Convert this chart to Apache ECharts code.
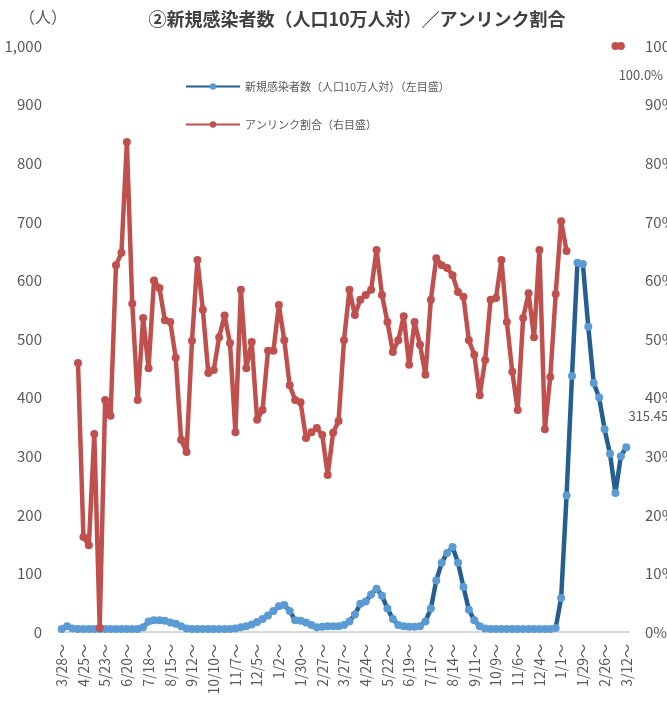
<!DOCTYPE html>
<html>
<head>
<meta charset="utf-8">
<script src="https://cdn.jsdelivr.net/npm/echarts@6/dist/echarts.min.js"></script>
<style>
  html, body { margin: 0; padding: 0; background: #fff; }
  #chart { width: 667px; height: 721px; }
</style>
</head>
<body>
<div id="chart"></div>
<script>
// 週ごとのラベル（4週おき）
let tickLabels = ['3/28～', '4/25～', '5/23～', '6/20～', '7/18～', '8/15～', '9/12～', '10/10～',
    '11/7～', '12/5～', '1/2～', '1/30～', '2/27～', '3/27～', '4/24～', '5/22～', '6/19～',
    '7/17～', '8/14～', '9/11～', '10/9～', '11/6～', '12/4～', '1/1～', '1/29～', '2/26～', '3/12～'];

// 新規感染者数（人口10万人対）
let newCases = [
    5, 10, 6, 5, 5, 5, 5, 5, 5, 5,
    5, 5, 5, 5, 5, 8, 18, 20, 20, 19,
    16, 14, 10, 6, 5, 5, 5, 5, 5, 5,
    5, 5, 6, 8, 10, 13, 17, 22, 28, 36,
    44, 46, 36, 20, 19, 16, 12, 8, 9, 10,
    10, 10, 12, 18, 30, 48, 52, 64, 74, 62,
    40, 22, 12, 10, 9, 9, 10, 18, 40, 88,
    118, 135, 145, 118, 77, 38, 20, 10, 6, 5,
    5, 5, 5, 5, 5, 5, 5, 5, 5, 5,
    5, 7, 58, 233, 437, 630, 628, 521, 425, 400,
    346, 304, 237, 300, 315.45
];

// アンリンク割合（%）
let unlinkRate = [
    null, null, null, 45.9, 16.2, 14.8, 33.8, 0.7, 39.6, 36.9,
    62.6, 64.7, 83.6, 56, 39.6, 53.6, 45, 60, 58.7, 53.2,
    52.9, 46.8, 32.8, 30.7, 49.7, 63.5, 55, 44.2, 44.7, 50.3,
    54, 49.3, 34.1, 58.4, 45, 49.5, 36.2, 37.9, 48, 48,
    55.8, 49.8, 42.1, 39.6, 39.2, 33.1, 34.1, 34.8, 33.6, 26.8,
    34, 36, 49.8, 58.4, 54.1, 56.7, 57.5, 58.4, 65.2, 57.5,
    52.9, 47.8, 49.8, 53.9, 45.6, 52.9, 49, 43.9, 56.7, 63.8,
    62.6, 62.1, 60.9, 58, 57.2, 49.8, 47.3, 40.4, 46.4, 56.7,
    57, 63.5, 52.9, 44.4, 37.9, 53.6, 57.8, 50.3, 65.2, 34.6,
    43.5, 57.7, 70.1, 65, null, null, null, null, null, null,
    null, null, 100, 100, null
];

let categories = newCases.map((v, i) => (i % 4 === 0 ? tickLabels[i / 4] : ''));

let lastCase = newCases.length - 1;
let lastRate = 0;
unlinkRate.forEach((v, i) => { if (v !== null) lastRate = i; });

let caseData = newCases.map((v, i) => i === lastCase
    ? { value: v, label: { show: true, formatter: '{c}', position: 'inside', offset: [22, -31] } }
    : v);
let rateData = unlinkRate.map((v, i) => i === lastRate
    ? { value: v, label: { show: true, formatter: (p) => p.value.toFixed(1) + '%', position: 'inside', offset: [20, 29] } }
    : v);

let font = '"Noto Sans CJK JP", "Noto Sans", sans-serif';
let gray = '#595959';

let option = {
    animation: false,
    backgroundColor: '#fff',
    textStyle: { fontFamily: font },
    title: [
        {
            text: '②新規感染者数（人口10万人対）／アンリンク割合',
            left: 352,
            textAlign: 'center',
            top: 5,
            textStyle: { fontSize: 18, fontWeight: 'bold', color: '#404040', fontFamily: font }
        },
        {
            text: '（人）',
            left: 14,
            top: 4,
            textStyle: { fontSize: 16, fontWeight: 'normal', color: gray, fontFamily: font }
        }
    ],
    legend: {
        orient: 'vertical',
        left: 180,
        top: 76,
        itemWidth: 54,
        itemHeight: 8,
        itemGap: 27,
        textStyle: { fontSize: 11, color: gray, fontFamily: font },
        data: ['新規感染者数（人口10万人対）（左目盛）', 'アンリンク割合（右目盛）']
    },
    grid: { left: 59, right: 38, top: 46, bottom: 89, outerBoundsMode: 'none', containLabel: false },
    xAxis: {
        type: 'category',
        data: categories,
        boundaryGap: true,
        axisLine: { lineStyle: { color: '#D9D9D9', width: 2 } },
        axisTick: { show: false },
        axisLabel: { interval: 3, rotate: 90, margin: 12, fontSize: 14, color: gray, fontFamily: font }
    },
    yAxis: [
        {
            type: 'value',
            min: 0,
            max: 1000,
            interval: 100,
            splitLine: { show: false },
            axisLine: { show: false },
            axisLabel: {
                margin: 17, fontSize: 15, color: gray, fontFamily: font,
                formatter: (v) => v.toLocaleString('en-US')
            }
        },
        {
            type: 'value',
            min: 0,
            max: 100,
            interval: 10,
            splitLine: { show: false },
            axisLine: { show: false },
            axisLabel: { margin: 16, fontSize: 15, color: gray, fontFamily: font, formatter: '{value}%' }
        }
    ],
    series: [
        {
            name: '新規感染者数（人口10万人対）（左目盛）',
            type: 'line',
            yAxisIndex: 0,
            data: caseData,
            symbol: 'circle',
            symbolSize: 8,
            showAllSymbol: true,
            lineStyle: { color: '#255E91', width: 4.5 },
            itemStyle: { color: '#5B9BD5' },
            label: { color: gray, fontSize: 13, fontFamily: font }
        },
        {
            name: 'アンリンク割合（右目盛）',
            type: 'line',
            yAxisIndex: 1,
            data: rateData,
            symbol: 'circle',
            symbolSize: 8,
            showAllSymbol: true,
            connectNulls: false,
            lineStyle: { color: '#C0504D', width: 4.5 },
            itemStyle: { color: '#C0504D' },
            label: { color: gray, fontSize: 13, fontFamily: font }
        }
    ]
};

let chart = echarts.init(document.getElementById('chart'));
chart.setOption(option);
</script>
</body>
</html>
